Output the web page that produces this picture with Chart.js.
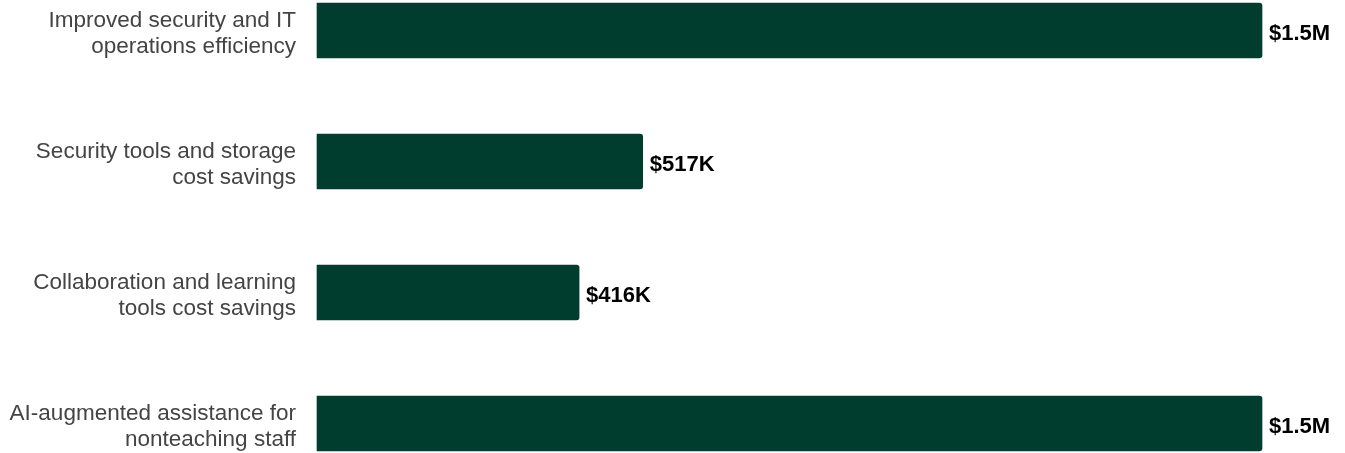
<!DOCTYPE html>
<html>
<head>
<meta charset="utf-8">
<script src="https://cdn.jsdelivr.net/npm/chart.js@4"></script>
<style>
  html, body { margin: 0; padding: 0; background: #fff; }
  #wrap { width: 1345px; height: 453px; }
</style>
</head>
<body>
<div id="wrap"><canvas id="benefitChart"></canvas></div>
<script>
// benefit categories (multi-line labels) and their values in dollars
const categories = [
    ['Improved security and IT', 'operations efficiency'],
    ['Security tools and storage', 'cost savings'],
    ['Collaboration and learning', 'tools cost savings'],
    ['AI-augmented assistance for', 'nonteaching staff']
];
const values = [1500000, 517000, 416000, 1500000];

const barColor = '#003d2f';

function formatMoney(v) {
    if (v >= 1000000) return '$' + (v / 1000000).toFixed(1) + 'M';
    return '$' + Math.round(v / 1000) + 'K';
}

// draw the value text just past the end of each bar
const valueLabels = {
    id: 'valueLabels',
    afterDatasetsDraw(chart) {
        const ctx = chart.ctx;
        const meta = chart.getDatasetMeta(0);
        ctx.save();
        ctx.font = 'bold 22px "Liberation Sans", Arial, sans-serif';
        ctx.fillStyle = '#000';
        ctx.textAlign = 'left';
        ctx.textBaseline = 'middle';
        meta.data.forEach((bar, i) => {
            ctx.fillText(formatMoney(values[i]), bar.x + 7, bar.y + 3);
        });
        ctx.restore();
    }
};

const ctx = document.getElementById('benefitChart').getContext('2d');
new Chart(ctx, {
    type: 'bar',
    data: {
        labels: categories,
        datasets: [{
            data: values,
            backgroundColor: barColor,
            barThickness: 55,
            borderRadius: 3,
            clip: false
        }]
    },
    options: {
        indexAxis: 'y',
        responsive: true,
        maintainAspectRatio: false,
        animation: false,
        layout: {
            padding: { top: 30.5, bottom: 29.5, right: 83, left: 0 }
        },
        plugins: {
            legend: { display: false },
            tooltip: { enabled: false }
        },
        scales: {
            x: {
                display: false,
                min: 0,
                max: 1500000
            },
            y: {
                offset: false,
                grid: { display: false, drawTicks: false },
                border: { display: false },
                ticks: {
                    color: '#444',
                    padding: 21,
                    labelOffset: 3,
                    font: { family: '"Liberation Sans", Arial, sans-serif', size: 22.5, lineHeight: 1.17 }
                },
                afterFit(scale) {
                    scale.width = 317;
                    // keep the multi-line labels from pushing the plot area inward
                    scale.paddingTop = 0;
                    scale.paddingBottom = 0;
                }
            }
        }
    },
    plugins: [valueLabels]
});
</script>
</body>
</html>
